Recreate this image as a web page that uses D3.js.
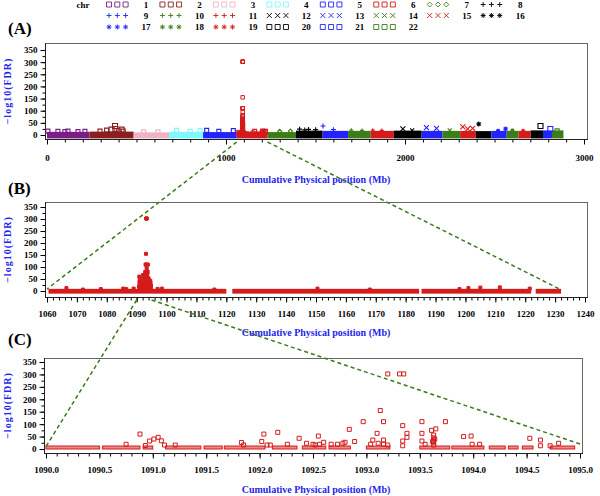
<!DOCTYPE html>
<html>
<head>
<meta charset="utf-8">
<script src="https://cdn.jsdelivr.net/npm/d3@7"></script>
<style>
  body { margin: 0; background: #fff; }
  svg { display: block; }
  text { font-family: "Liberation Serif", "Times New Roman", serif; font-weight: bold; }
  .tick text { font-size: 9px; fill: #000; }
  .tick line { stroke: #000; }
  .frame { fill: none; stroke: #666; stroke-width: 1; }
  .axis-line { stroke: #222; stroke-width: 1; }
  .axis-title { fill: #2424f0; font-size: 10px; }
  .panel-label { font-size: 17px; fill: #000; }
  .legend text { font-size: 9px; fill: #000; }
  .zoom-line { fill: none; stroke: #3b7a1b; stroke-width: 1.5; stroke-dasharray: 4 3; }
</style>
</head>
<body>
<script>
const WIDTH = 600;
const HEIGHT = 496;

// chromosomes, cumulative start/end in Mb
const CHR_NAMES = ["1", "2", "3", "4", "5", "6", "7", "8", "9", "10", "11",
    "12", "13", "14", "15", "16", "17", "18", "19", "20", "21", "22"];
const CHR_BOUNDS = [0, 237, 484, 682, 872, 1060, 1232, 1391, 1540, 1682, 1808,
    1938, 2093, 2210, 2308, 2396, 2482, 2568, 2635, 2702, 2771, 2821, 2885];
// height of the dense mass of small values on each chromosome
const CHR_BAND_TOP = [13, 14, 11, 13, 12, 14, 12, 18, 17, 17, 17,
    18, 17, 17, 17, 16, 17, 17, 17, 19, 19, 19];

// symbol/colour cycle of the plotting software
const CHR_COLORS = ["#7b1e86", "#8b1e1e", "#efb3c3", "#7ff8ff", "#2323ff", "#d41c1c",
    "#3b7d16", "#000000", "#2323ff", "#3b7d16", "#d41c1c", "#000000", "#2323ff",
    "#3b7d16", "#d41c1c", "#000000", "#2323ff", "#3b7d16", "#d41c1c", "#000000",
    "#2323ff", "#3b7d16"];
const CHR_SYMBOLS = ["square", "square", "square", "square", "square", "square",
    "diamond", "plus", "plus", "plus", "plus", "cross", "cross", "cross", "cross",
    "star", "star", "star", "star", "square", "square", "square"];

// genome-wide points sticking out of the band: [chr, Mb, -log10(FDR)]
const POINTS_A = [
    [1, 5, 16], [1, 61, 15], [1, 100, 14], [1, 117, 16], [1, 173, 14], [1, 212, 15],
    [2, 296, 16], [2, 333, 20], [2, 361, 22], [2, 380, 37], [2, 382, 25], [2, 398, 18],
    [2, 417, 22], [2, 426, 16],
    [3, 540, 13], [3, 620, 13],
    [4, 724, 19], [4, 800, 15], [4, 855, 18],
    [5, 892, 19], [5, 960, 15], [5, 1041, 18],
    [6, 1160, 15], [6, 1205, 16], [6, 1221, 15],
    [7, 1300, 15], [7, 1360, 16],
    [8, 1411, 24], [8, 1440, 21], [8, 1461, 23], [8, 1501, 22],
    [9, 1542, 37], [9, 1600, 22],
    [10, 1700, 20], [10, 1760, 19],
    [11, 1820, 20], [11, 1870, 19],
    [12, 1988, 25], [12, 2040, 19],
    [13, 2120, 30], [13, 2176, 27],
    [14, 2250, 19],
    [15, 2323, 33], [15, 2350, 25], [15, 2378, 27],
    [16, 2412, 45],
    [17, 2520, 18], [17, 2562, 25],
    [18, 2600, 19],
    [19, 2660, 17],
    [20, 2757, 37],
    [21, 2812, 25],
    [22, 2850, 17]
];

// chromosome 6 window (B): dense stretches near zero and scattered points
const BAND_B = [[1060.5, 1120], [1122, 1184.5], [1185.3, 1222], [1223.5, 1232]];
const POINTS_B = [
    [1066.5, 12], [1072, 6], [1078, 8], [1085.5, 10], [1086.5, 8], [1089, 10],
    [1097, 9], [1098.5, 10], [1116, 6], [1150.5, 10], [1168, 6], [1198, 8],
    [1201, 12], [1205, 14], [1211.5, 15], [1221.5, 10]
];

// peak window (C)
const BAND_C = [[1090.0, 1090.5], [1090.53, 1090.88], [1090.91, 1091.0],
    [1091.12, 1091.45], [1091.48, 1091.65], [1091.67, 1092.05], [1092.12, 1092.35],
    [1092.4, 1092.62], [1092.65, 1092.85], [1093.0, 1093.22], [1093.5, 1093.78],
    [1093.8, 1094.1], [1094.15, 1094.3], [1094.33, 1094.42], [1094.46, 1094.56],
    [1094.72, 1094.95]];
const POINTS_C = [
    [1090.75, 19], [1090.88, 60], [1090.93, 14], [1090.97, 32], [1091.01, 40],
    [1091.05, 47], [1091.08, 33], [1091.11, 16], [1091.21, 16], [1091.83, 26],
    [1091.85, 16], [1092.02, 30], [1092.04, 60], [1092.07, 16], [1092.1, 16],
    [1092.17, 67], [1092.26, 19], [1092.37, 43], [1092.44, 23], [1092.5, 19],
    [1092.52, 16], [1092.55, 52], [1092.56, 19], [1092.6, 27], [1092.67, 19],
    [1092.73, 19], [1092.78, 23], [1092.8, 27], [1092.84, 79], [1092.89, 30],
    [1092.97, 110], [1093.04, 19], [1093.06, 36], [1093.1, 63], [1093.11, 23],
    [1093.13, 155], [1093.16, 110], [1093.16, 36], [1093.16, 19], [1093.2, 302],
    [1093.2, 16], [1093.31, 302], [1093.35, 302], [1093.34, 94], [1093.38, 63],
    [1093.38, 47], [1093.34, 32], [1093.34, 13], [1093.52, 110], [1093.52, 63],
    [1093.52, 32], [1093.55, 19], [1093.61, 75], [1093.62, 30], [1093.63, 56],
    [1093.63, 45], [1093.63, 35], [1093.63, 25], [1093.63, 16], [1093.64, 40],
    [1093.65, 81], [1093.74, 110], [1093.91, 50], [1093.98, 52], [1093.99, 19],
    [1094.06, 19], [1094.53, 43], [1094.63, 36], [1094.63, 13], [1094.72, 13],
    [1094.8, 23]
];

const ZOOM_B = [1060, 1232];
const ZOOM_C = [1090, 1095];

const TICKS_Y = [0, 50, 100, 150, 200, 250, 300, 350];
const TICKS_A = [0, 1000, 2000, 3000];
const TICKS_B = [1060, 1070, 1080, 1090, 1100, 1110, 1120, 1130, 1140, 1150,
    1160, 1170, 1180, 1190, 1200, 1210, 1220, 1230, 1240];
const TICKS_C = [1090.0, 1090.5, 1091.0, 1091.5, 1092.0, 1092.5,
    1093.0, 1093.5, 1094.0, 1094.5, 1095.0];

const X_TITLE = "Cumulative Physical position (Mb)";
const Y_TITLE = "\u2212log10(FDR)";

// Panel geometry in pixels
const PANEL_A = { label: "(A)", labelY: 34, left: 45, right: 587, top: 43, bottom: 139,
    xDomain: [0, 3000], xRange: [47, 584], yRange: [135, 50],
    ticks: TICKS_A, minorStep: 100, tickPad: 10, format: d3.format("d"), titleY: 186 };
const PANEL_B = { label: "(B)", labelY: 194, left: 45, right: 587, top: 202, bottom: 297,
    xDomain: [1060, 1240], xRange: [47, 585], yRange: [291, 207],
    ticks: TICKS_B, minorStep: 2, tickPad: 8, format: d3.format("d"), titleY: 339 };
const PANEL_C = { label: "(C)", labelY: 345, left: 44, right: 582, top: 358, bottom: 453,
    xDomain: [1090, 1095], xRange: [46, 580], yRange: [449, 362],
    ticks: TICKS_C, minorStep: 0.1, tickPad: 8, format: d3.format(".1f"), titleY: 496 };

const svg = d3.select("body")
    .append("svg")
    .attr("width", WIDTH)
    .attr("height", HEIGHT);

function symbolPath(type, size) {
    const h = size / 2;
    const k = h * 0.72;
    switch (type) {
        case "diamond":
            return `M0,${-h}L${h},0L0,${h}L${-h},0Z`;
        case "plus":
            return `M${-h},0H${h}M0,${-h}V${h}`;
        case "cross":
            return `M${-h},${-h}L${h},${h}M${-h},${h}L${h},${-h}`;
        case "star":
            return `M${-h},0H${h}M0,${-h}V${h}M${-k},${-k}L${k},${k}M${-k},${k}L${k},${-k}`;
        default:
            return `M${-h},${-h}H${h}V${h}H${-h}Z`;
    }
}

function drawPanel(cfg) {
    const g = svg.append("g");
    const x = d3.scaleLinear().domain(cfg.xDomain).range(cfg.xRange);
    const y = d3.scaleLinear().domain([0, 350]).range(cfg.yRange);

    g.append("rect")
        .attr("class", "frame")
        .attr("x", cfg.left + 0.5)
        .attr("y", cfg.top + 0.5)
        .attr("width", cfg.right - cfg.left)
        .attr("height", cfg.bottom - cfg.top);

    // x axis: labelled major ticks plus small minor ticks
    const minor = d3.range(cfg.xDomain[0], cfg.xDomain[1] + cfg.minorStep / 2, cfg.minorStep);
    g.append("g")
        .attr("transform", `translate(0,${cfg.bottom + 0.5})`)
        .call(d3.axisBottom(x).tickValues(minor).tickSize(3).tickFormat(""))
        .call(a => a.select(".domain").remove());
    g.append("g")
        .attr("transform", `translate(0,${cfg.bottom + 0.5})`)
        .call(d3.axisBottom(x).tickValues(cfg.ticks).tickSize(5)
            .tickPadding(cfg.tickPad).tickFormat(cfg.format))
        .call(a => a.select(".domain").remove());

    // y axis
    g.append("g")
        .attr("transform", `translate(${cfg.left + 0.5},0)`)
        .call(d3.axisLeft(y).tickValues(d3.range(0, 351, 25)).tickSize(3).tickFormat(""))
        .call(a => a.select(".domain").remove());
    g.append("g")
        .attr("transform", `translate(${cfg.left + 0.5},0)`)
        .call(d3.axisLeft(y).tickValues(TICKS_Y).tickSize(5).tickPadding(3))
        .call(a => a.select(".domain").remove());

    g.append("line").attr("class", "axis-line")
        .attr("x1", cfg.left + 0.5).attr("x2", cfg.left + 0.5)
        .attr("y1", cfg.top).attr("y2", cfg.bottom + 1);
    g.append("line").attr("class", "axis-line")
        .attr("x1", cfg.left).attr("x2", cfg.right + 1)
        .attr("y1", cfg.bottom + 0.5).attr("y2", cfg.bottom + 0.5);

    svg.append("text")
        .attr("class", "axis-title")
        .attr("x", 316)
        .attr("y", cfg.titleY - 3)
        .attr("text-anchor", "middle")
        .text(X_TITLE);

    const yMid = (cfg.top + cfg.bottom) / 2;
    svg.append("text")
        .attr("class", "axis-title")
        .attr("transform", `translate(11,${yMid}) rotate(-90)`)
        .attr("text-anchor", "middle")
        .attr("letter-spacing", 1)
        .text(Y_TITLE);

    svg.append("text")
        .attr("class", "panel-label")
        .attr("x", 8)
        .attr("y", cfg.labelY)
        .text(cfg.label);

    return { g, x, y };
}

function drawPoints(g, points, x, y, size, symbol, color, fill = "none") {
    g.append("g")
        .selectAll("path")
        .data(points)
        .join("path")
        .attr("transform", d => `translate(${x(d[0])},${y(d[1])})`)
        .attr("d", symbolPath(symbol, size))
        .attr("fill", fill)
        .attr("stroke", color)
        .attr("stroke-width", 1);
}

function drawBand(g, segments, x, y, lo, hi, color, stroke = "none") {
    g.append("g")
        .selectAll("rect")
        .data(segments)
        .join("rect")
        .attr("x", d => x(d[0]))
        .attr("width", d => Math.max(1, x(d[1]) - x(d[0])))
        .attr("y", y(hi))
        .attr("height", y(lo) - y(hi))
        .attr("fill", color)
        .attr("stroke", stroke);
}

// ---- Panel A: whole genome
const A = drawPanel(PANEL_A);
const chrSegments = CHR_NAMES.map((name, i) => ({
    i, start: CHR_BOUNDS[i], end: CHR_BOUNDS[i + 1], top: CHR_BAND_TOP[i]
}));
A.g.append("g")
    .selectAll("rect")
    .data(chrSegments)
    .join("rect")
    .attr("x", d => A.x(d.start))
    .attr("width", d => A.x(d.end) - A.x(d.start))
    .attr("y", d => A.y(d.top))
    .attr("height", d => A.y(-14) - A.y(d.top))
    .attr("fill", d => CHR_COLORS[d.i]);
A.g.append("g")
    .selectAll("path")
    .data(POINTS_A)
    .join("path")
    .attr("transform", d => `translate(${A.x(d[1])},${A.y(d[2])})`)
    .attr("d", d => symbolPath(CHR_SYMBOLS[d[0] - 1], d[2] > 20 ? 5 : 4))
    .attr("fill", "none")
    .attr("stroke", d => CHR_COLORS[d[0] - 1])
    .attr("stroke-width", 1.1);
drawPoints(A.g, POINTS_B.concat(POINTS_C), A.x, A.y, 3.5, CHR_SYMBOLS[5], CHR_COLORS[5]);

// ---- Panel B: chromosome 6
const B = drawPanel(PANEL_B);
drawBand(B.g, BAND_B, B.x, B.y, -11, 9, CHR_COLORS[5]);
drawPoints(B.g, POINTS_B.concat(POINTS_C), B.x, B.y, 3, CHR_SYMBOLS[5], CHR_COLORS[5], CHR_COLORS[5]);

// ---- Panel C: peak region
const C = drawPanel(PANEL_C);
drawBand(C.g, BAND_C, C.x, C.y, 0, 12, "#ea8a8a", CHR_COLORS[5]);
drawPoints(C.g, POINTS_C, C.x, C.y, 4, CHR_SYMBOLS[5], CHR_COLORS[5]);

// ---- Legend
const legend = svg.append("g").attr("class", "legend");
legend.append("text")
    .attr("x", 83).attr("y", 4.5).attr("dy", "0.35em")
    .attr("text-anchor", "middle")
    .text("chr");
const legendItems = legend.selectAll("g.item")
    .data(CHR_NAMES.map((name, i) => ({ name, i })))
    .join("g")
    .attr("class", "item")
    .attr("transform", d => `translate(${109 + 53.45 * (d.i % 8)},${[4.5, 15.5, 27][Math.floor(d.i / 8)]})`);
legendItems.selectAll("path")
    .data(d => [0, 1, 2].map(k => ({ k, i: d.i })))
    .join("path")
    .attr("transform", d => `translate(${d.k * 8.3},0)`)
    .attr("d", d => symbolPath(CHR_SYMBOLS[d.i], 5))
    .attr("fill", "none")
    .attr("stroke", d => CHR_COLORS[d.i])
    .attr("stroke-width", 0.9);
legendItems.append("text")
    .attr("x", 37)
    .attr("dy", "0.35em")
    .attr("text-anchor", "middle")
    .text(d => d.name);

// ---- Dashed zoom connectors
const connectors = [
    [A.x(ZOOM_B[0]), PANEL_A.bottom + 3, B.x(ZOOM_B[0]), B.y(8)],
    [A.x(ZOOM_B[1]), PANEL_A.bottom + 3, B.x(ZOOM_B[1]), B.y(5)],
    [B.x(ZOOM_C[0]), PANEL_B.bottom + 3, C.x(ZOOM_C[0]), C.y(10)],
    [B.x(ZOOM_C[1]), PANEL_B.bottom + 3, C.x(ZOOM_C[1]), C.y(20)]
];
svg.append("g")
    .selectAll("line")
    .data(connectors)
    .join("line")
    .attr("class", "zoom-line")
    .attr("x1", d => d[0]).attr("y1", d => d[1])
    .attr("x2", d => d[2]).attr("y2", d => d[3]);
</script>
</body>
</html>
